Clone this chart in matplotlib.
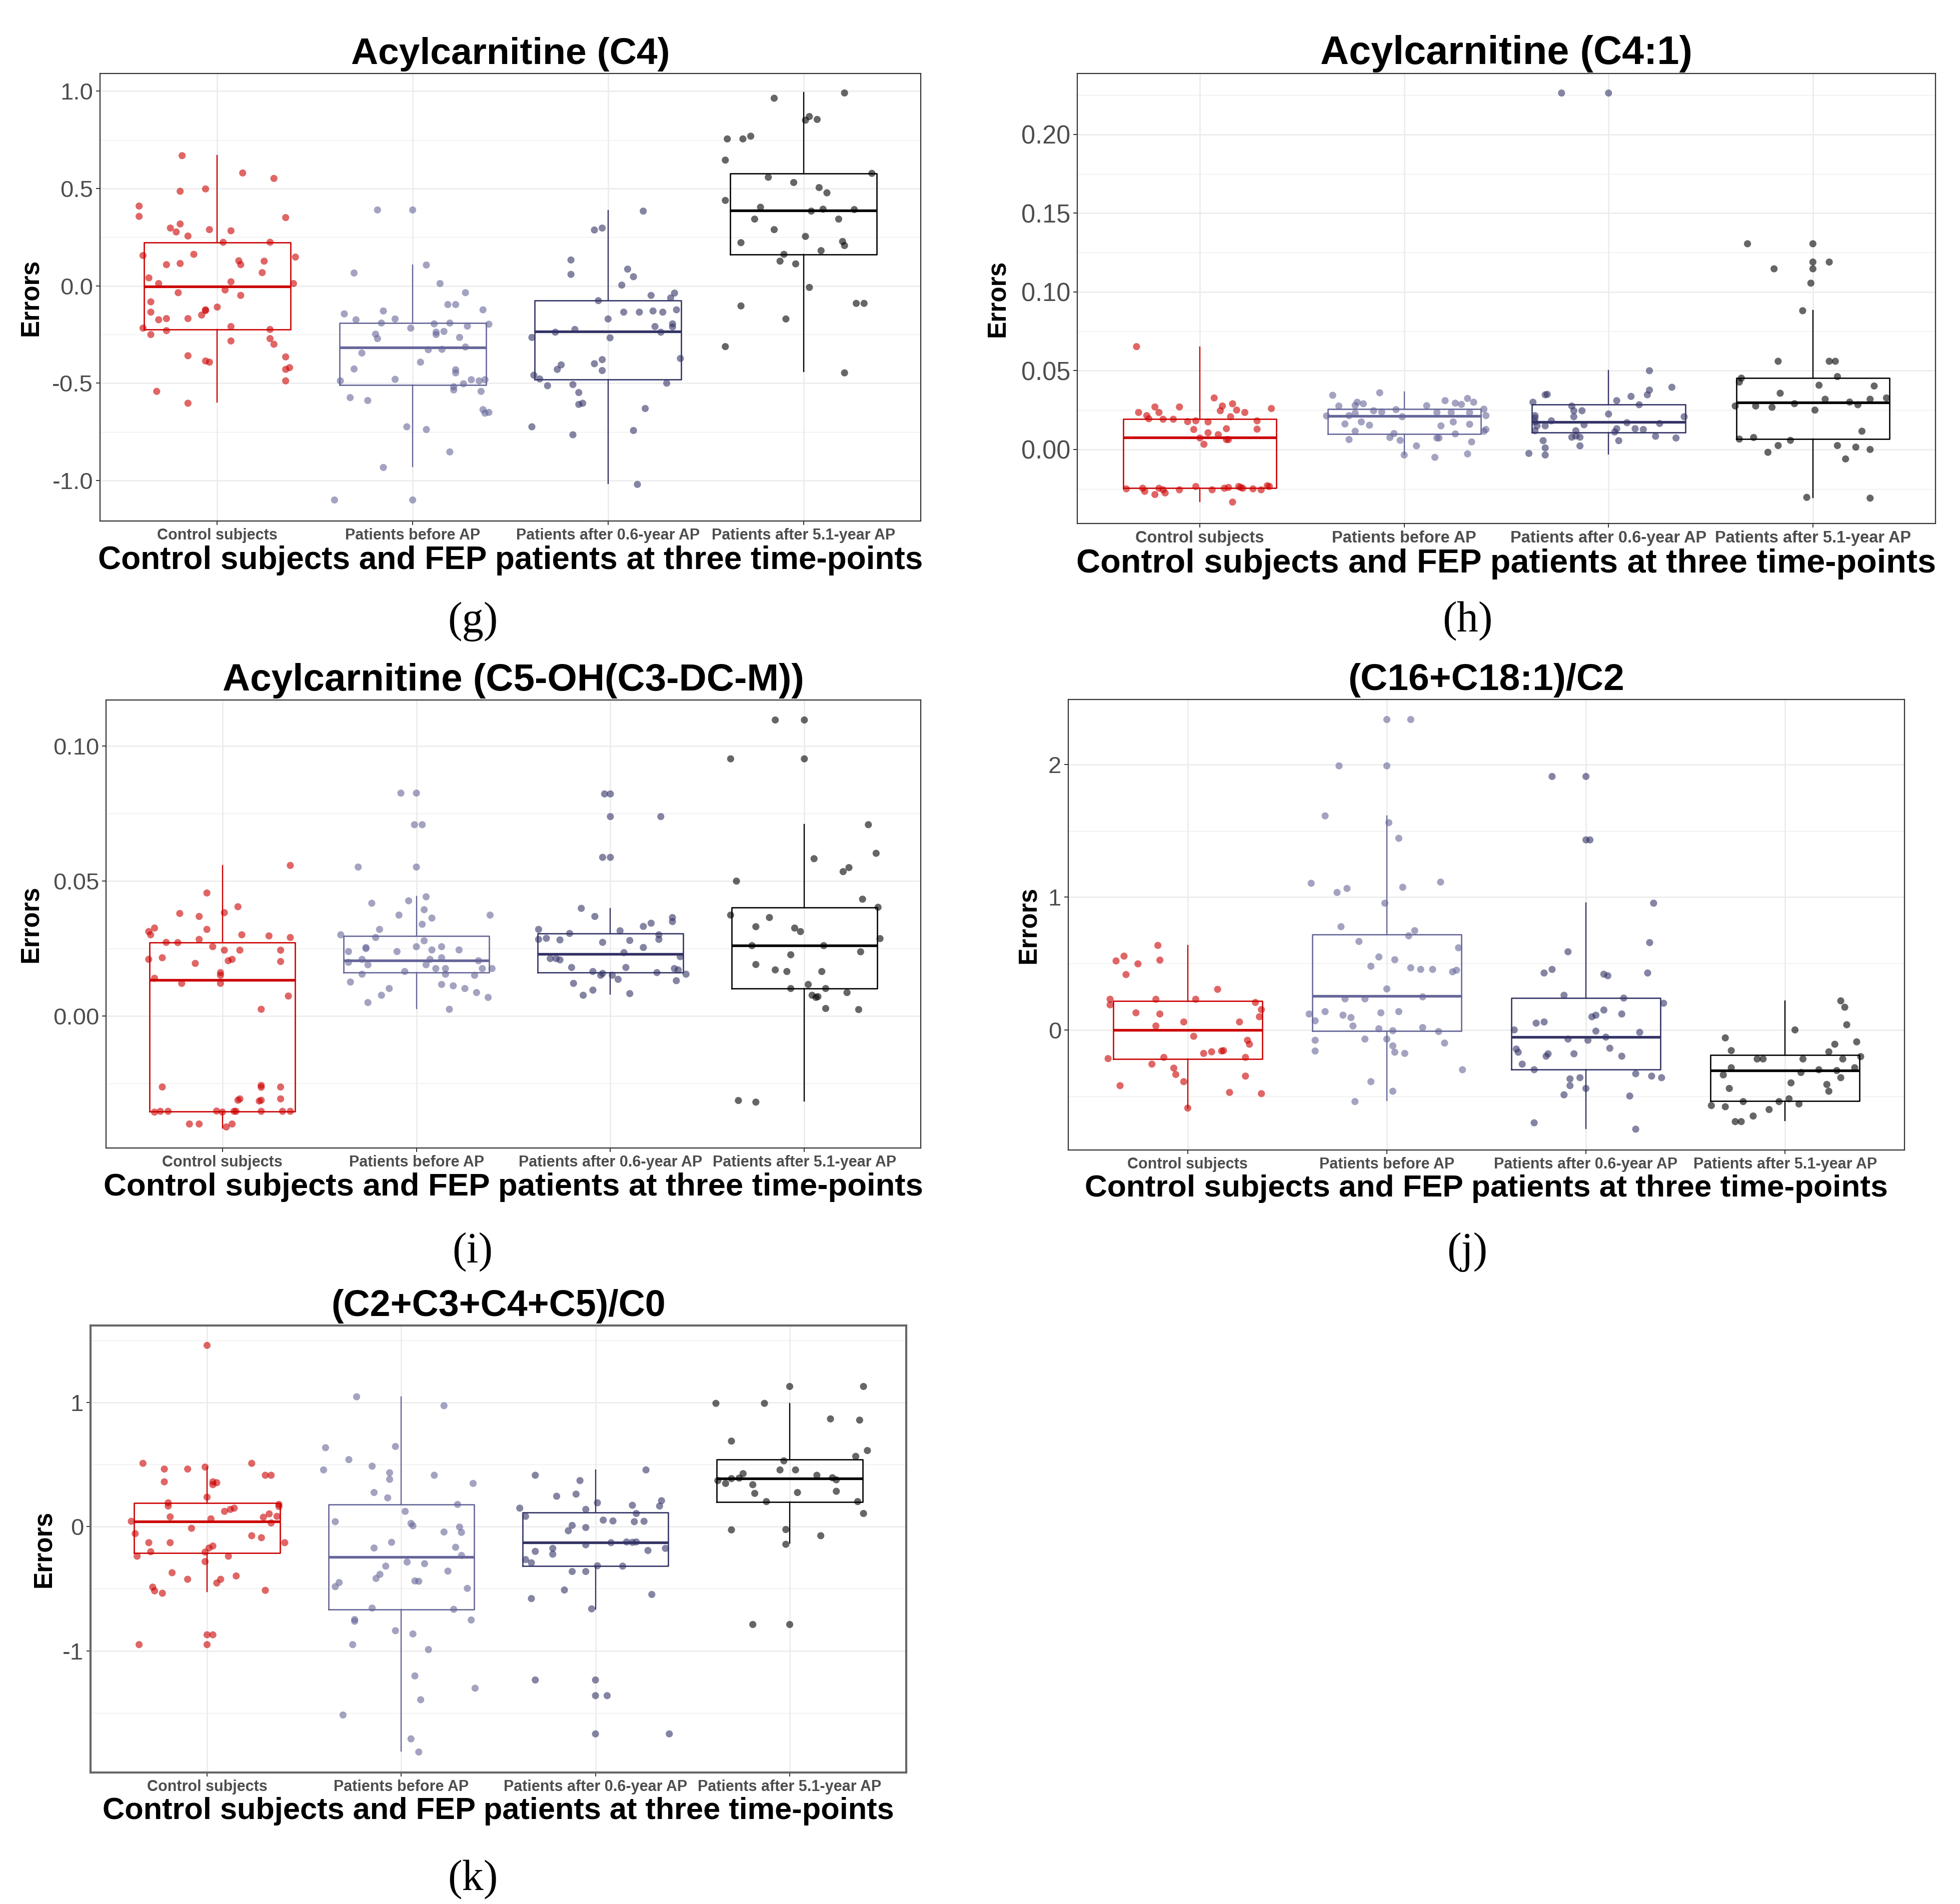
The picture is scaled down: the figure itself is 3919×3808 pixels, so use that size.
import matplotlib
matplotlib.use('Agg')
import matplotlib.pyplot as plt

plt.rcParams['font.family'] = ['Liberation Sans', 'DejaVu Sans']
plt.rcParams['axes.unicode_minus'] = False

W, H = 3919, 3808

groups = ['Control subjects', 'Patients before AP',
          'Patients after 0.6-year AP', 'Patients after 5.1-year AP']
colors = ['#CC0000', '#666699', '#333366', '#000000']
xlab = 'Control subjects and FEP patients at three time-points'

# ---- (g) Acylcarnitine (C4): points as (jitter, value) ----
c4_ctrl = [(-0.18, 0.669), (-0.40, 0.41), (-0.40, 0.357), (-0.19, 0.486), (-0.06, 0.498), (0.13, 0.58),
           (0.29, 0.552), (0.35, 0.351), (-0.24, 0.297), (-0.21, 0.277), (-0.19, 0.318), (-0.15, 0.256),
           (-0.04, 0.289), (0.07, 0.283), (0.03, 0.224), (0.27, 0.224), (-0.38, 0.156), (-0.26, 0.109),
           (-0.19, 0.115), (-0.12, 0.162), (0.11, 0.129), (0.12, 0.109), (0.24, 0.127), (0.23, 0.068),
           (0.40, 0.148), (0.39, 0.012), (-0.35, 0.041), (-0.30, 0.012), (0.07, 0.021), (0.04, -0.021),
           (0.12, -0.049), (-0.20, -0.035), (-0.34, -0.082), (0.0, -0.109), (-0.34, -0.135), (-0.30, -0.174),
           (-0.26, -0.168), (-0.15, -0.168), (-0.06, -0.123), (-0.06, -0.127), (-0.08, -0.15), (-0.38, -0.217),
           (-0.34, -0.25), (-0.26, -0.23), (0.07, -0.209), (0.27, -0.224), (0.07, -0.283), (0.27, -0.271),
           (0.29, -0.30), (-0.15, -0.359), (-0.06, -0.386), (-0.04, -0.392), (0.35, -0.365), (0.37, -0.42),
           (0.35, -0.429), (0.35, -0.488), (-0.31, -0.542), (-0.15, -0.603)]
c4_before = [(-0.18, 0.39), (0.0, 0.39), (-0.30, 0.066), (0.07, 0.107), (0.14, 0.012), (0.27, -0.035),
             (0.18, -0.096), (0.22, -0.096), (0.36, -0.123), (-0.35, -0.144), (-0.29, -0.174), (-0.15, -0.129),
             (-0.16, -0.191), (-0.09, -0.17), (0.11, -0.195), (0.19, -0.191), (0.39, -0.197), (-0.19, -0.248),
             (-0.18, -0.271), (-0.01, -0.217), (0.12, -0.238), (0.12, -0.25), (0.16, -0.234), (0.28, -0.207),
             (0.24, -0.265), (0.27, -0.314), (0.08, -0.328), (0.15, -0.326), (-0.26, -0.345), (0.04, -0.392),
             (-0.30, -0.427), (0.22, -0.431), (0.22, -0.447), (-0.09, -0.48), (-0.37, -0.488), (0.37, -0.482),
             (0.30, -0.482), (0.34, -0.488), (0.26, -0.503), (0.21, -0.519), (0.21, -0.535), (0.35, -0.542),
             (-0.32, -0.574), (-0.23, -0.589), (0.36, -0.636), (0.37, -0.654), (0.39, -0.65), (-0.03, -0.724),
             (0.07, -0.738), (0.19, -0.853), (-0.15, -0.933), (-0.40, -1.10), (0.0, -1.10)]
c4_06 = [(0.18, 0.384), (-0.07, 0.287), (-0.03, 0.297), (-0.19, 0.133), (-0.19, 0.059), (0.10, 0.086),
         (0.13, 0.047), (0.07, 0.004), (0.22, -0.049), (0.32, -0.062), (0.34, -0.037), (-0.05, -0.076),
         (0.08, -0.135), (0.16, -0.135), (0.23, -0.129), (0.28, -0.135), (0.35, -0.123), (0.0, -0.17),
         (0.24, -0.209), (0.33, -0.195), (0.33, -0.211), (0.27, -0.238), (-0.17, -0.224), (-0.27, -0.238),
         (-0.39, -0.265), (0.01, -0.267), (0.37, -0.373), (-0.03, -0.379), (-0.07, -0.40), (-0.24, -0.406),
         (-0.26, -0.429), (-0.03, -0.435), (-0.38, -0.459), (-0.35, -0.478), (-0.31, -0.513), (-0.18, -0.507),
         (0.30, -0.50), (-0.15, -0.548), (-0.13, -0.603), (-0.15, -0.609), (0.19, -0.63), (-0.39, -0.724),
         (0.13, -0.743), (-0.18, -0.765), (0.15, -1.02)]
c4_51 = [(-0.15, 0.964), (0.21, 0.991), (0.01, 0.851), (0.03, 0.87), (0.07, 0.855), (-0.39, 0.755),
         (-0.31, 0.755), (-0.27, 0.769), (-0.40, 0.646), (0.35, 0.578), (-0.18, 0.558), (-0.05, 0.531),
         (0.08, 0.505), (0.12, 0.478), (-0.40, 0.439), (-0.22, 0.404), (0.04, 0.384), (0.10, 0.394),
         (0.26, 0.392), (-0.25, 0.343), (0.18, 0.343), (-0.15, 0.289), (0.01, 0.254), (-0.32, 0.222),
         (0.20, 0.228), (0.21, 0.207), (0.09, 0.181), (-0.10, 0.162), (-0.12, 0.127), (-0.04, 0.113),
         (0.03, -0.008), (-0.32, -0.103), (0.27, -0.09), (0.31, -0.09), (-0.09, -0.17), (-0.40, -0.312),
         (0.21, -0.447)]
c4_q1 = [-0.224, -0.509, -0.48, 0.162]
c4_med = [-0.004, -0.316, -0.234, 0.388]
c4_q3 = [0.224, -0.191, -0.076, 0.578]
c4_lo = [-0.597, -0.929, -1.015, -0.441]
c4_hi = [0.669, 0.107, 0.386, 0.993]

# ---- (h) Acylcarnitine (C4:1) ----
c41_ctrl = [(-0.31, 0.0653), (0.07, 0.0327), (0.16, 0.029), (-0.10, 0.027), (-0.22, 0.027), (0.35, 0.026),
            (-0.30, 0.0235), (-0.20, 0.0235), (0.11, 0.0276), (0.10, 0.0246), (0.18, 0.025), (0.22, 0.0235),
            (-0.26, 0.0215), (0.15, 0.0208), (-0.25, 0.0195), (-0.18, 0.0192), (-0.13, 0.0192), (-0.06, 0.0177),
            (-0.02, 0.0182), (0.04, 0.0175), (0.28, 0.0182), (-0.03, 0.0127), (0.13, 0.0132), (0.28, 0.0129),
            (0.04, 0.0106), (0.09, 0.0094), (0.0, 0.0073), (0.13, 0.0063), (0.14, 0.0063), (0.02, 0.0033),
            (-0.36, -0.025), (-0.28, -0.0246), (-0.27, -0.0266), (-0.22, -0.0286), (-0.20, -0.0246),
            (-0.18, -0.0256), (-0.17, -0.0276), (-0.10, -0.0256), (-0.02, -0.0235), (0.06, -0.0256),
            (0.12, -0.0246), (0.14, -0.0241), (0.19, -0.0235), (0.20, -0.0241), (0.21, -0.0246),
            (0.26, -0.025), (0.30, -0.0256), (0.33, -0.023), (0.34, -0.0235), (0.16, -0.0334)]
c41_before = [(-0.35, 0.0344), (-0.12, 0.036), (-0.32, 0.0276), (-0.23, 0.030), (-0.24, 0.028), (-0.20, 0.029),
              (0.20, 0.031), (0.25, 0.0294), (0.28, 0.0286), (0.31, 0.0324), (0.34, 0.030), (0.39, 0.0256),
              (-0.04, 0.0253), (-0.15, 0.0246), (-0.11, 0.0238), (0.11, 0.0278), (0.16, 0.0235), (0.23, 0.0235),
              (0.32, 0.0235), (-0.38, 0.0213), (-0.27, 0.0215), (-0.24, 0.023), (-0.01, 0.0208), (0.40, 0.0215),
              (-0.21, 0.0175), (-0.29, 0.0162), (-0.17, 0.0154), (0.24, 0.0175), (0.32, 0.016), (0.18, 0.015),
              (-0.24, 0.0116), (-0.05, 0.0101), (0.25, 0.0099), (0.39, 0.0116), (0.40, 0.0127), (-0.27, 0.0063),
              (-0.07, 0.0076), (0.16, 0.0073), (0.17, 0.0073), (-0.02, 0.0058), (0.33, 0.0048), (0.06, 0.0023),
              (0.0, -0.0035), (0.15, -0.005), (0.31, -0.0028)]
c41_06 = [(-0.23, 0.2263), (0.0, 0.2263), (0.20, 0.050), (0.31, 0.0395), (0.20, 0.0377), (0.11, 0.0337),
          (0.19, 0.0347), (-0.31, 0.0347), (-0.30, 0.035), (-0.37, 0.030), (0.04, 0.031), (0.15, 0.0284),
          (-0.18, 0.0276), (-0.17, 0.0246), (-0.13, 0.0246), (0.0, 0.0225), (-0.36, 0.0215), (-0.36, 0.020),
          (-0.17, 0.0208), (0.37, 0.0208), (-0.28, 0.0182), (-0.36, 0.0175), (-0.35, 0.015), (-0.31, 0.015),
          (-0.12, 0.0157), (0.09, 0.017), (0.25, 0.0165), (0.04, 0.0132), (0.13, 0.0132), (0.17, 0.0127),
          (-0.36, 0.0119), (0.03, 0.0111), (-0.16, 0.0119), (-0.16, 0.0086), (-0.18, 0.0078), (-0.14, 0.0078),
          (0.23, 0.0084), (0.33, 0.0073), (-0.32, 0.0056), (0.05, 0.0056), (-0.14, 0.0023), (-0.31, 0.001),
          (-0.39, -0.0025), (-0.31, -0.0035)]
c41_51 = [(-0.32, 0.1306), (0.0, 0.1306), (-0.19, 0.1147), (0.0, 0.119), (0.0, 0.1147), (0.08, 0.119),
          (-0.01, 0.1056), (-0.05, 0.0881), (-0.17, 0.056), (0.08, 0.056), (0.11, 0.056), (-0.35, 0.0453),
          (-0.36, 0.0428), (0.12, 0.0463), (0.03, 0.0408), (0.30, 0.0403), (-0.16, 0.0357), (0.06, 0.0319),
          (0.28, 0.0319), (0.36, 0.0327), (-0.38, 0.0276), (-0.28, 0.0276), (-0.20, 0.0268), (-0.09, 0.0291),
          (0.18, 0.0301), (0.22, 0.0284), (0.01, 0.025), (0.24, 0.0116), (-0.36, 0.0066), (-0.29, 0.0076),
          (-0.11, 0.0058), (-0.17, 0.0025), (0.12, 0.0025), (0.21, 0.0015), (0.28, 0.0), (-0.22, -0.0018),
          (0.16, -0.006), (-0.03, -0.0304), (0.28, -0.0309)]
c41_q1 = [-0.0246, 0.0099, 0.0109, 0.0066]
c41_med = [0.0076, 0.0213, 0.0175, 0.0299]
c41_q3 = [0.0192, 0.0258, 0.0284, 0.0453]
c41_lo = [-0.033, -0.0033, -0.003, -0.0304]
c41_hi = [0.065, 0.0365, 0.050, 0.0881]

# ---- (i) Acylcarnitine (C5-OH(C3-DC-M)) ----
c5_ctrl = [(0.35, 0.0558), (-0.08, 0.0456), (0.08, 0.0405), (-0.22, 0.038), (-0.12, 0.0369), (0.01, 0.0383),
           (-0.35, 0.0326), (-0.38, 0.0313), (-0.37, 0.0301), (-0.08, 0.0321), (0.10, 0.0301), (0.24, 0.0297),
           (0.35, 0.0291), (-0.29, 0.0273), (-0.23, 0.0272), (-0.12, 0.0284), (-0.05, 0.0257), (0.01, 0.0244),
           (0.09, 0.0244), (0.30, 0.0244), (-0.38, 0.021), (-0.31, 0.0216), (-0.14, 0.0195), (0.03, 0.0205),
           (0.05, 0.021), (0.30, 0.0202), (-0.01, 0.0161), (-0.01, 0.0151), (-0.35, 0.014), (-0.21, 0.0121),
           (-0.01, 0.0121), (0.34, 0.0074), (0.20, 0.0025), (-0.31, -0.0263), (0.20, -0.0257), (0.20, -0.0264),
           (0.30, -0.0263), (0.09, -0.0307), (0.08, -0.0312), (0.20, -0.0312), (0.19, -0.0315), (0.30, -0.0307),
           (-0.35, -0.0356), (-0.32, -0.0353), (-0.28, -0.0353), (-0.03, -0.0352), (0.0, -0.0356),
           (0.06, -0.0353), (0.07, -0.0353), (0.20, -0.0353), (0.31, -0.0353), (0.35, -0.0353),
           (-0.17, -0.040), (-0.12, -0.040), (0.02, -0.0411), (0.05, -0.040)]
c5_before = [(-0.08, 0.0826), (0.0, 0.0826), (-0.01, 0.0709), (0.03, 0.0709), (-0.30, 0.0552), (0.0, 0.0552),
             (-0.23, 0.0418), (-0.04, 0.0427), (0.05, 0.0442), (-0.09, 0.0374), (0.04, 0.0394), (0.08, 0.0363),
             (0.38, 0.0374), (0.03, 0.034), (-0.19, 0.0321), (-0.39, 0.0301), (-0.21, 0.0291), (0.04, 0.0279),
             (-0.26, 0.0254), (-0.26, 0.025), (0.0, 0.0257), (0.08, 0.0245), (0.13, 0.0257), (0.22, 0.0245),
             (-0.35, 0.0239), (-0.10, 0.0239), (-0.28, 0.021), (0.07, 0.021), (0.13, 0.0216), (0.32, 0.0205),
             (-0.35, 0.0199), (-0.25, 0.019), (0.05, 0.019), (0.10, 0.0176), (0.15, 0.0176), (0.39, 0.0176),
             (0.34, 0.0176), (-0.28, 0.0155), (-0.06, 0.0165), (0.15, 0.0155), (0.30, 0.0151), (-0.34, 0.0126),
             (0.13, 0.0117), (0.19, 0.0112), (-0.14, 0.0102), (0.25, 0.0102), (-0.18, 0.0077), (0.31, 0.0087),
             (0.37, 0.0069), (-0.25, 0.005), (0.17, 0.0025)]
c5_06 = [(-0.03, 0.0823), (0.0, 0.0823), (0.0, 0.0739), (0.26, 0.0739), (-0.04, 0.0588), (0.0, 0.0588),
         (-0.15, 0.0399), (-0.08, 0.0369), (0.32, 0.0365), (0.32, 0.035), (0.21, 0.0344), (0.17, 0.0332),
         (-0.37, 0.0321), (0.05, 0.0316), (-0.21, 0.0306), (0.25, 0.0301), (0.25, 0.0284), (-0.37, 0.0284),
         (-0.33, 0.0288), (-0.26, 0.0282), (-0.04, 0.0273), (0.10, 0.028), (0.17, 0.0254), (-0.31, 0.0213),
         (-0.28, 0.0213), (-0.26, 0.0208), (0.07, 0.0235), (0.36, 0.022), (-0.20, 0.018), (0.08, 0.018),
         (0.33, 0.0176), (0.35, 0.0171), (0.24, 0.0161), (-0.09, 0.0165), (-0.05, 0.0151), (-0.04, 0.0158),
         (0.01, 0.0151), (0.39, 0.0155), (0.04, 0.0136), (-0.19, 0.0121), (0.34, 0.0131), (-0.09, 0.0096),
         (-0.14, 0.0077), (0.10, 0.0083)]
c5_51 = [(-0.15, 0.1097), (0.0, 0.1097), (-0.38, 0.0953), (0.0, 0.0953), (0.33, 0.0709), (0.37, 0.0603),
         (0.05, 0.0583), (0.23, 0.055), (0.20, 0.0535), (-0.35, 0.050), (0.30, 0.0433), (0.38, 0.0403),
         (-0.38, 0.0374), (-0.18, 0.0365), (-0.05, 0.0326), (-0.02, 0.0313), (-0.25, 0.0331), (0.39, 0.0287),
         (-0.27, 0.0261), (0.10, 0.0261), (0.29, 0.0238), (-0.07, 0.0227), (-0.25, 0.0191), (-0.15, 0.0171),
         (-0.09, 0.0165), (0.09, 0.0165), (0.02, 0.0117), (-0.07, 0.0102), (0.11, 0.0102), (0.22, 0.0087),
         (0.04, 0.0077), (0.06, 0.0069), (0.07, 0.0072), (0.11, 0.0028), (0.28, 0.0024), (-0.34, -0.0313),
         (-0.25, -0.0319)]
c5_q1 = [-0.0353, 0.0161, 0.0161, 0.0102]
c5_med = [0.0133, 0.0205, 0.023, 0.0261]
c5_q3 = [0.0272, 0.0297, 0.0306, 0.0403]
c5_lo = [-0.0415, 0.0028, 0.0081, -0.0315]
c5_hi = [0.0558, 0.0442, 0.0399, 0.0709]

# ---- (j) (C16+C18:1)/C2 ----
c16_ctrl = [(-0.15, 0.637), (-0.36, 0.52), (-0.32, 0.556), (-0.25, 0.498), (-0.14, 0.526), (-0.31, 0.417),
            (0.15, 0.306), (-0.39, 0.231), (-0.16, 0.231), (0.04, 0.231), (-0.39, 0.189), (0.34, 0.207),
            (0.37, 0.153), (-0.26, 0.129), (-0.14, 0.12), (0.36, 0.099), (-0.02, 0.06), (0.26, 0.06),
            (-0.16, 0.03), (0.03, -0.048), (0.30, -0.078), (0.31, -0.108), (0.18, -0.156), (0.17, -0.159),
            (0.12, -0.165), (0.08, -0.177), (-0.40, -0.216), (-0.12, -0.207), (0.29, -0.207), (-0.18, -0.258),
            (-0.07, -0.288), (-0.06, -0.336), (-0.02, -0.39), (0.29, -0.348), (-0.34, -0.42), (0.21, -0.471),
            (0.37, -0.48), (0.0, -0.589)]
c16_before = [(0.0, 2.339), (0.12, 2.339), (-0.24, 1.99), (0.0, 1.99), (-0.31, 1.613), (0.01, 1.562),
              (0.06, 1.444), (-0.38, 1.105), (0.27, 1.114), (-0.25, 1.036), (-0.20, 1.066), (0.08, 1.075),
              (-0.01, 0.955), (-0.23, 0.778), (0.14, 0.748), (0.11, 0.709), (-0.14, 0.667), (0.36, 0.619),
              (-0.04, 0.55), (0.04, 0.529), (-0.08, 0.48), (0.12, 0.468), (0.17, 0.456), (0.23, 0.456),
              (0.33, 0.438), (0.35, 0.45), (0.0, 0.309), (-0.21, 0.234), (-0.11, 0.234), (0.18, 0.249),
              (-0.39, 0.12), (-0.31, 0.138), (-0.22, 0.111), (-0.18, 0.093), (-0.03, 0.129), (0.06, 0.138),
              (-0.36, 0.069), (-0.17, 0.03), (-0.04, 0.009), (0.03, -0.006), (0.18, 0.018), (0.26, -0.012),
              (-0.36, -0.078), (-0.11, -0.069), (0.0, -0.069), (0.29, -0.099), (-0.36, -0.159), (0.03, -0.12),
              (0.04, -0.168), (0.09, -0.177), (0.38, -0.30), (-0.08, -0.39), (0.03, -0.462), (-0.16, -0.54)]
c16_06 = [(-0.17, 1.91), (0.0, 1.91), (0.0, 1.432), (0.02, 1.432), (0.34, 0.955), (0.32, 0.658),
          (-0.09, 0.589), (-0.21, 0.429), (-0.17, 0.456), (0.09, 0.42), (0.11, 0.408), (0.31, 0.429),
          (-0.11, 0.261), (0.19, 0.24), (0.39, 0.201), (0.09, 0.15), (0.03, 0.099), (0.05, 0.111),
          (0.18, 0.12), (-0.25, 0.051), (-0.21, 0.06), (-0.36, 0.0), (0.05, -0.009), (0.27, -0.018),
          (-0.09, -0.069), (0.01, -0.078), (0.10, -0.054), (-0.35, -0.144), (-0.34, -0.168), (0.12, -0.138),
          (-0.19, -0.18), (-0.20, -0.198), (-0.06, -0.18), (0.18, -0.198), (-0.32, -0.258), (-0.26, -0.30),
          (0.25, -0.33), (0.33, -0.348), (0.38, -0.36), (-0.03, -0.36), (-0.08, -0.369), (-0.08, -0.42),
          (0.0, -0.441), (-0.11, -0.489), (0.22, -0.498), (-0.26, -0.70), (0.25, -0.748)]
c16_51 = [(0.28, 0.219), (0.30, 0.171), (0.31, 0.039), (0.05, 0.0), (-0.30, -0.06), (0.25, -0.108),
          (0.36, -0.09), (-0.27, -0.156), (0.22, -0.165), (-0.14, -0.219), (-0.11, -0.219), (0.09, -0.219),
          (0.29, -0.219), (0.38, -0.201), (-0.27, -0.285), (0.08, -0.321), (0.17, -0.30), (0.26, -0.306),
          (0.35, -0.285), (-0.31, -0.339), (0.28, -0.36), (0.03, -0.399), (0.21, -0.411), (-0.28, -0.441),
          (0.22, -0.462), (0.02, -0.519), (-0.03, -0.54), (-0.21, -0.54), (0.07, -0.558), (-0.37, -0.57),
          (-0.30, -0.579), (-0.08, -0.60), (-0.16, -0.649), (-0.25, -0.691), (-0.22, -0.691)]
c16_q1 = [-0.219, -0.009, -0.30, -0.535]
c16_med = [0.0, 0.255, -0.054, -0.306]
c16_q3 = [0.219, 0.718, 0.24, -0.189]
c16_lo = [-0.589, -0.532, -0.742, -0.682]
c16_hi = [0.637, 1.613, 0.955, 0.219]

# ---- (k) (C2+C3+C4+C5)/C0 ----
rat_ctrl = [(0.0, 1.46), (-0.33, 0.51), (-0.22, 0.464), (-0.10, 0.464), (-0.01, 0.48), (0.23, 0.51),
            (0.30, 0.414), (0.33, 0.414), (-0.22, 0.361), (0.03, 0.361), (0.05, 0.354), (0.03, 0.338),
            (0.0, 0.238), (-0.20, 0.192), (-0.20, 0.166), (0.37, 0.179), (0.37, 0.162), (0.14, 0.149),
            (0.12, 0.139), (0.09, 0.123), (-0.19, 0.079), (0.32, 0.103), (0.29, 0.076), (0.36, 0.083),
            (-0.39, 0.043), (0.02, 0.063), (0.33, 0.03), (-0.08, -0.013), (-0.37, -0.056), (0.23, -0.073),
            (0.28, -0.089), (-0.30, -0.129), (-0.19, -0.129), (0.40, -0.129), (0.03, -0.156), (0.01, -0.172),
            (-0.29, -0.202), (-0.01, -0.205), (-0.36, -0.238), (0.11, -0.238), (-0.01, -0.281), (-0.18, -0.371),
            (0.15, -0.397), (-0.10, -0.424), (0.07, -0.424), (0.05, -0.454), (-0.28, -0.487), (-0.27, -0.517),
            (-0.23, -0.536), (0.30, -0.513), (0.0, -0.871), (0.03, -0.871), (-0.35, -0.95), (0.0, -0.95)]
rat_before = [(-0.23, 1.046), (0.22, 0.974), (-0.39, 0.636), (-0.03, 0.646), (-0.27, 0.54), (-0.40, 0.457),
              (-0.15, 0.487), (-0.06, 0.434), (-0.06, 0.381), (0.17, 0.414), (0.37, 0.348), (-0.14, 0.275),
              (-0.07, 0.232), (0.29, 0.179), (0.02, 0.123), (-0.34, 0.04), (0.05, 0.026), (0.06, 0.007),
              (0.22, -0.043), (0.30, -0.003), (0.31, -0.046), (-0.05, -0.126), (-0.14, -0.172), (0.28, -0.166),
              (0.31, -0.232), (0.03, -0.285), (0.12, -0.298), (-0.08, -0.318), (0.24, -0.358), (-0.11, -0.384),
              (-0.13, -0.417), (0.07, -0.437), (0.09, -0.44), (-0.32, -0.45), (-0.34, -0.483), (0.34, -0.497),
              (-0.15, -0.656), (0.27, -0.666), (-0.24, -0.748), (-0.24, -0.762), (0.36, -0.752), (-0.03, -0.838),
              (0.06, -0.864), (-0.25, -0.95), (0.14, -0.99), (0.07, -1.202), (0.38, -1.301), (0.10, -1.394),
              (-0.30, -1.517), (0.05, -1.709), (0.09, -1.815)]
rat_06 = [(0.26, 0.457), (-0.31, 0.414), (-0.08, 0.371), (-0.20, 0.245), (-0.10, 0.262), (0.01, 0.192),
          (-0.05, 0.139), (-0.39, 0.149), (0.34, 0.209), (0.33, 0.166), (0.19, 0.172), (-0.36, 0.083),
          (0.21, 0.106), (0.20, 0.04), (0.04, 0.053), (0.09, 0.046), (0.25, 0.043), (-0.12, 0.01),
          (-0.14, -0.033), (-0.05, -0.007), (-0.31, -0.199), (-0.22, -0.175), (-0.22, -0.222), (-0.05, -0.146),
          (0.08, -0.129), (0.16, -0.123), (0.19, -0.126), (0.21, -0.123), (0.36, -0.175), (0.27, -0.192),
          (-0.36, -0.265), (-0.33, -0.291), (0.01, -0.315), (0.14, -0.318), (-0.12, -0.361), (-0.05, -0.361),
          (-0.16, -0.51), (-0.33, -0.579), (0.29, -0.546), (-0.02, -0.662), (-0.31, -1.235), (0.0, -1.235),
          (0.0, -1.361), (0.06, -1.361), (0.0, -1.669), (0.38, -1.669)]
rat_51 = [(0.0, 1.129), (0.38, 1.129), (-0.38, 0.993), (-0.13, 0.993), (0.21, 0.868), (0.36, 0.858),
          (-0.30, 0.689), (0.40, 0.613), (-0.03, 0.53), (0.34, 0.566), (-0.05, 0.457), (0.03, 0.457),
          (-0.24, 0.427), (0.14, 0.414), (0.22, 0.394), (-0.37, 0.371), (-0.30, 0.387), (-0.26, 0.391),
          (-0.33, 0.348), (-0.19, 0.338), (0.24, 0.377), (-0.18, 0.268), (0.04, 0.275), (0.24, 0.285),
          (-0.12, 0.202), (0.35, 0.202), (0.38, 0.106), (-0.30, -0.026), (-0.02, -0.023), (0.16, -0.073),
          (-0.02, -0.142), (-0.19, -0.788), (0.0, -0.788)]
rat_q1 = [-0.212, -0.666, -0.318, 0.199]
rat_med = [0.043, -0.245, -0.129, 0.387]
rat_q3 = [0.192, 0.179, 0.113, 0.54]
rat_lo = [-0.523, -1.808, -0.662, -0.132]
rat_hi = [0.48, 1.046, 0.457, 0.993]

fig = plt.figure(figsize=(W / 100, H / 100), dpi=100)


def panel(box, title, pts, q1, med, q3, lo, hi, ylim, ticks, minor, fmt, ylab_x,
          tag, tag_xy, title_fs=54, xlab_fs=46, sc=1.0, edge='#333333', edge_lw=1.6):
    l, t, r, b = box
    ax = fig.add_axes([l / W, 1 - b / H, (r - l) / W, (b - t) / H])
    ax.set_axisbelow(True)
    for i, grp in enumerate(pts):
        st = [dict(q1=q1[i], med=med[i], q3=q3[i], whislo=lo[i], whishi=hi[i], fliers=[])]
        ax.bxp(st, positions=[i + 1], widths=0.75, showcaps=False, showfliers=False,
               manage_ticks=False,
               boxprops=dict(color=colors[i], lw=1.9),
               whiskerprops=dict(color=colors[i], lw=1.7),
               medianprops=dict(color=colors[i], lw=3.8))
        ax.scatter([i + 1 + d for d, v in grp], [v for d, v in grp], s=105,
                   color=colors[i], alpha=0.6, edgecolors='none', zorder=3)
    ax.set_xlim(0.4, 4.6)
    ax.set_ylim(*ylim)
    ax.set_xticks([1, 2, 3, 4])
    ax.set_xticklabels(groups, fontsize=22 * sc, fontweight='bold', color='#4D4D4D')
    ax.set_yticks(ticks)
    ax.set_yticklabels([fmt % v for v in ticks], fontsize=34 * sc, color='#4D4D4D')
    ax.set_yticks(minor, minor=True)
    ax.tick_params(which='major', length=6, width=1.4, color='#333333', pad=4)
    ax.tick_params(which='minor', length=0)
    ax.grid(which='major', color='#EBEBEB', lw=1.8)
    ax.grid(which='minor', axis='y', color='#EBEBEB', lw=0.9)
    for s in ax.spines.values():
        s.set_color(edge)
        s.set_linewidth(edge_lw)
    ax.set_title(title, fontsize=title_fs, fontweight='bold', pad=14)
    ax.set_xlabel(xlab, fontsize=xlab_fs, fontweight='bold', labelpad=4)
    ax.set_ylabel('Errors', fontsize=37, fontweight='bold')
    ax.yaxis.label.set_va('center')
    ax.yaxis.set_label_coords((ylab_x - l) / (r - l), 0.5)
    fig.text(tag_xy[0] / W, 1 - tag_xy[1] / H, tag, family='Liberation Serif',
             fontsize=62, ha='center', va='center')
    return ax


panel((200, 147, 1841, 1042), 'Acylcarnitine (C4)',
      [c4_ctrl, c4_before, c4_06, c4_51], c4_q1, c4_med, c4_q3, c4_lo, c4_hi,
      (-1.208, 1.091), [-1.0, -0.5, 0.0, 0.5, 1.0], [-0.75, -0.25, 0.25, 0.75], '%.1f',
      62, '(g)', (945, 1243))
panel((2154, 147, 3870, 1047), 'Acylcarnitine (C4:1)',
      [c41_ctrl, c41_before, c41_06, c41_51], c41_q1, c41_med, c41_q3, c41_lo, c41_hi,
      (-0.047, 0.2387), [0.0, 0.05, 0.10, 0.15, 0.20], [-0.025, 0.025, 0.075, 0.125, 0.175, 0.225], '%.2f',
      1995, '(h)', (2934, 1243), title_fs=57, xlab_fs=48, sc=1.07)
panel((212, 1400, 1841, 2296), 'Acylcarnitine (C5-OH(C3-DC-M))',
      [c5_ctrl, c5_before, c5_06, c5_51], c5_q1, c5_med, c5_q3, c5_lo, c5_hi,
      (-0.0489, 0.1171), [0.0, 0.05, 0.10], [-0.025, 0.025, 0.075], '%.2f',
      62, '(i)', (945, 2504), title_fs=55, xlab_fs=45.7)
panel((2136, 1399, 3808, 2300), '(C16+C18:1)/C2',
      [c16_ctrl, c16_before, c16_06, c16_51], c16_q1, c16_med, c16_q3, c16_lo, c16_hi,
      (-0.905, 2.49), [0, 1, 2], [-0.5, 0.5, 1.5], '%d',
      2057, '(j)', (2934, 2504), xlab_fs=44.8)
panel((181, 2651, 1812, 3545), '(C2+C3+C4+C5)/C0',
      [rat_ctrl, rat_before, rat_06, rat_51], rat_q1, rat_med, rat_q3, rat_lo, rat_hi,
      (-1.98, 1.62), [-1, 0, 1], [-1.5, -0.5, 0.5, 1.5], '%d',
      88, '(k)', (945, 3760), title_fs=53, xlab_fs=44.2, edge='#666666', edge_lw=3)

fig.savefig('out.png', dpi=100)
